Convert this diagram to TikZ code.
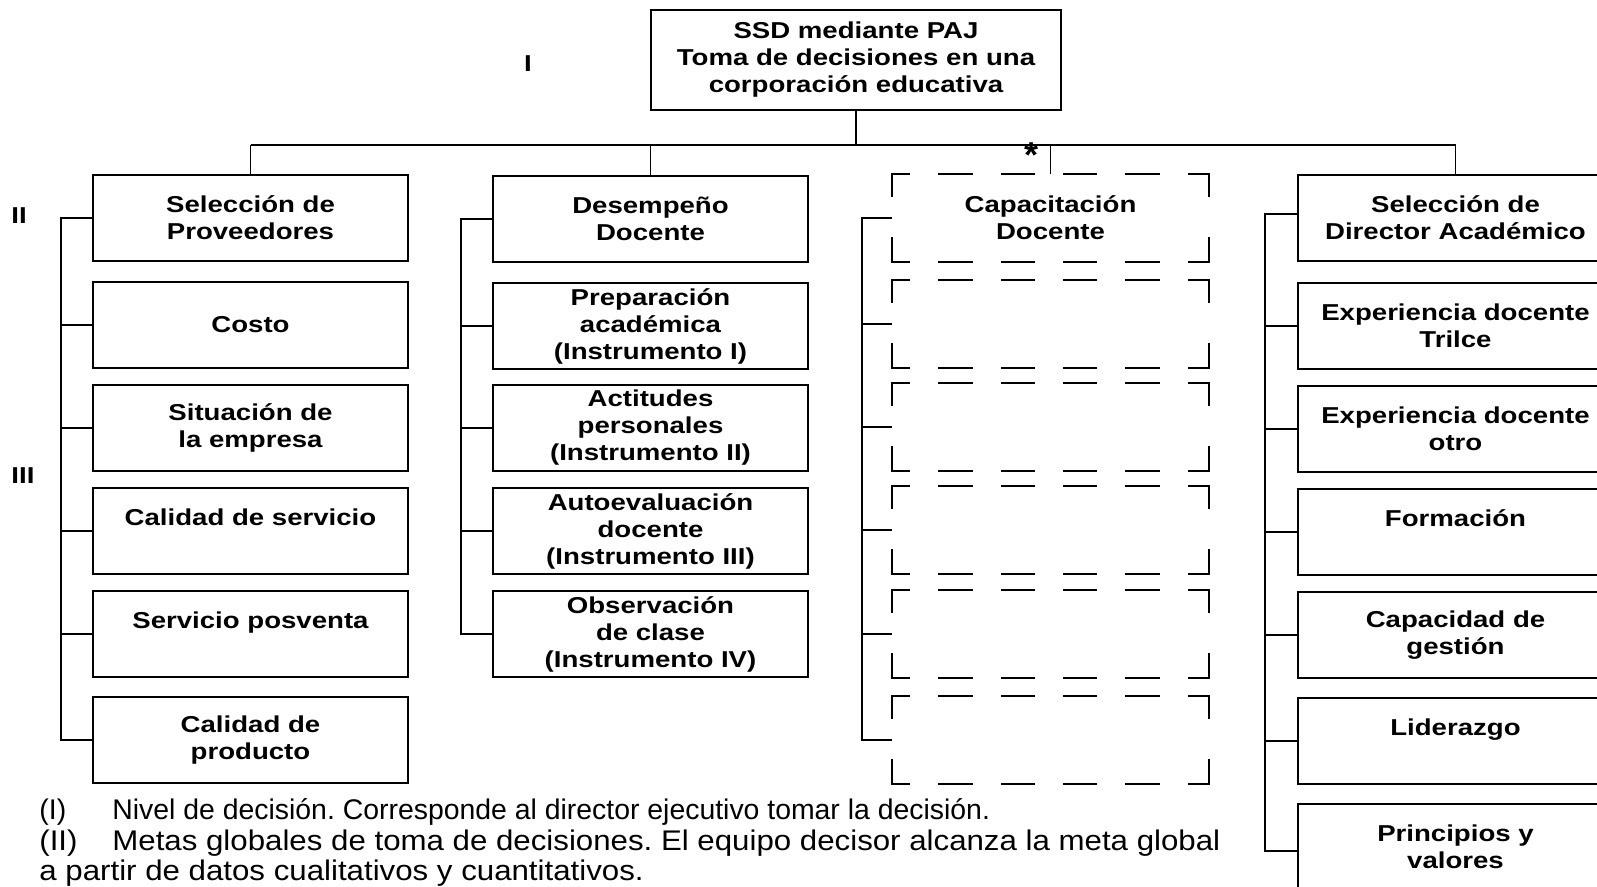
\documentclass[tikz,border=0pt]{standalone}
\usepackage{fontspec}
\setmainfont{Liberation Sans}
\newfontfamily\boxfont[FakeStretch=1.2]{Liberation Sans}
\newfontfamily\widefont[FakeStretch=1.1]{Liberation Sans}
\frenchspacing
\begin{document}
\begin{tikzpicture}[x=0.5pt,y=-0.5pt,
  box/.style={draw, line width=1pt, minimum width=157.5pt, minimum height=43pt, inner sep=0pt, align=center,
    font=\boxfont\bfseries\fontsize{11.5}{13.5}\selectfont},
  dbox/.style={box, draw=none},
  link/.style={line width=0.75pt},
  hd/.style={line width=1.2pt, line cap=rect, dash pattern=on 16pt off 15.2pt, dash phase=7.5pt},
  vd/.style={line width=1.2pt, line cap=rect, dash pattern=on 22pt off 21pt, dash phase=11pt},
  lbl/.style={font=\boxfont\bfseries\fontsize{11.5}{13.5}\selectfont, inner sep=0pt},
  note/.style={font=\fontsize{14.2}{16}\frenchspacing\selectfont, anchor=base west, inner sep=0pt},
  widenote/.style={note, font=\widefont\fontsize{14.2}{16}\frenchspacing\selectfont}]
\useasboundingbox (0,0) rectangle (1597,887);
\clip (0,0) rectangle (1597,887);
\fill[white] (0,0) rectangle (1597,887);

% top
\node[box, minimum width=205pt, minimum height=50pt] (top) at (856,60)
  {SSD mediante PAJ\\Toma de decisiones en una\\corporación educativa};

% column 1
\node[box] (c1r1) at (250.5,218) {Selección de\\Proveedores};
\node[box] (c1r2) at (250.5,325) {Costo};
\node[box] (c1r3) at (250.5,428) {Situación de\\la empresa};
\node[box] (c1r4) at (250.5,531) {Calidad de servicio\\~};
\node[box] (c1r5) at (250.5,634) {Servicio posventa\\~};
\node[box] (c1r6) at (250.5,740) {Calidad de\\producto};

% column 2
\node[box] (c2r1) at (650.5,219) {Desempeño\\Docente};
\node[box] (c2r2) at (650.5,326) {Preparación\\académica\\(Instrumento I)};
\node[box] (c2r3) at (650.5,428) {Actitudes\\personales\\(Instrumento II)};
\node[box] (c2r4) at (650.5,531) {Autoevaluación\\docente\\(Instrumento III)};
\node[box] (c2r5) at (650.5,634) {Observación\\de clase\\(Instrumento IV)};

% column 3 (dashed)
\node[dbox] (c3r1) at (1050.5,218) {Capacitación\\Docente};
\node[dbox] (c3r2) at (1050.5,324) {};
\node[dbox] (c3r3) at (1050.5,427) {};
\node[dbox] (c3r4) at (1050.5,530) {};
\node[dbox] (c3r5) at (1050.5,634) {};
\node[dbox] (c3r6) at (1050.5,740) {};
\foreach \n in {c3r1,c3r2,c3r3,c3r4,c3r5,c3r6}{
  \draw[hd] (\n.north west) -- (\n.north east);
  \draw[hd] (\n.south west) -- (\n.south east);
  \draw[vd] (\n.north west) -- (\n.south west);
  \draw[vd] (\n.north east) -- (\n.south east);
}

% column 4
\node[box] (c4r1) at (1455.5,218) {Selección de\\Director Académico};
\node[box] (c4r2) at (1455.5,326) {Experiencia docente\\Trilce};
\node[box] (c4r3) at (1455.5,429) {Experiencia docente\\otro};
\node[box] (c4r4) at (1455.5,532) {Formación\\~};
\node[box] (c4r5) at (1455.5,635) {Capacidad de\\gestión};
\node[box] (c4r6) at (1455.5,741) {Liderazgo\\~};
\node[box] (c4r7) at (1455.5,847) {Principios y\\valores};

% bus
\coordinate (bus) at (0,145);
\draw[link] (top.south) -- (top.south |- bus);
\draw[link] (c1r1.north |- bus) -- (c4r1.north |- bus);
\foreach \n in {c1r1,c2r1,c3r1,c4r1}{
  \draw[link] (\n.north |- bus) -- (\n.north);
}

% brackets
\coordinate (k1) at (61,0);
\coordinate (k2) at (461,0);
\coordinate (k3) at (862,0);
\coordinate (k4) at (1265,0);
\draw[link] (c1r1.west) -- (c1r1.west -| k1) -- (c1r6.west -| k1) -- (c1r6.west);
\foreach \n in {c1r2,c1r3,c1r4,c1r5}{\draw[link] (\n.west -| k1) -- (\n.west);}
\draw[link] (c2r1.west) -- (c2r1.west -| k2) -- (c2r5.west -| k2) -- (c2r5.west);
\foreach \n in {c2r2,c2r3,c2r4}{\draw[link] (\n.west -| k2) -- (\n.west);}
\draw[link] (c3r1.west) -- (c3r1.west -| k3) -- (c3r6.west -| k3) -- (c3r6.west);
\foreach \n in {c3r2,c3r3,c3r4,c3r5}{\draw[link] (\n.west -| k3) -- (\n.west);}
\draw[link] ([yshift=2pt]c4r1.west) -- ([yshift=2pt]c4r1.west -| k4) -- ([yshift=-2pt]c4r7.west -| k4) -- ([yshift=-2pt]c4r7.west);
\foreach \n in {c4r2,c4r3,c4r4,c4r5,c4r6}{\draw[link] (\n.west -| k4) -- (\n.west);}

% level labels
\node[lbl] (lI) at (528,64) {I};
\node[lbl] (lII) at (19,216) {II};
\node[lbl] (lIII) at (23,476) {III};
\node[lbl, font=\bfseries\fontsize{18}{18}\selectfont] (star) at (1031,155) {*};

% notes
\node[note] (n1) at (39,819) {(I)};
\node[note] (n1t) at (112,819) {Nivel de decisión. Corresponde al director ejecutivo tomar la decisión.};
\node[widenote] (n2) at (39,850) {(II)};
\node[widenote] (n2t) at (112,850) {Metas globales de toma de decisiones. El equipo decisor alcanza la meta global};
\node[widenote] (n3) at (39,880) {a partir de datos cualitativos y cuantitativos.};
\end{tikzpicture}
\end{document}
